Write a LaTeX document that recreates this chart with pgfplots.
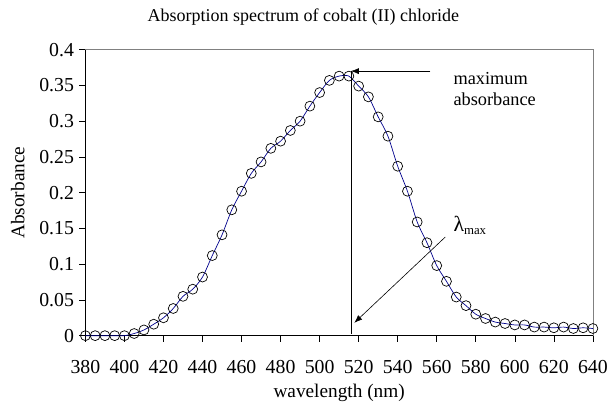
\documentclass[border=0pt]{standalone}
\usepackage{pgfplots}
\pgfplotsset{compat=1.18}
\usepackage{pgfplotstable}
\usepackage{fontspec}
\setmainfont{Liberation Serif}
\usetikzlibrary{arrows.meta}
\definecolor{curveblue}{RGB}{0,0,140}
\pgfplotstableread{
x y
380 0
385 0
390 0
395 0
400 0
405 0.003
410 0.008
415 0.016
420 0.025
425 0.038
430 0.055
435 0.065
440 0.082
445 0.112
450 0.141
455 0.176
460 0.202
465 0.227
470 0.243
475 0.262
480 0.272
485 0.287
490 0.300
495 0.321
500 0.340
505 0.357
510 0.363
515 0.363
520 0.349
525 0.334
530 0.306
535 0.279
540 0.237
545 0.202
550 0.159
555 0.130
560 0.098
565 0.076
570 0.054
575 0.042
580 0.030
585 0.024
590 0.019
595 0.017
600 0.015
605 0.015
610 0.012
615 0.012
620 0.011
625 0.012
630 0.010
635 0.011
640 0.010
}\spectrum
\begin{document}
\begin{tikzpicture}
\begin{axis}[
  at={(0,0)}, anchor=south west,
  scale only axis, width=511bp, height=288bp,
  xmin=380, xmax=640, ymin=0, ymax=0.4,
  xtick={380,400,...,640},
  ytick={0,0.05,...,0.4},
  yticklabels={0,0.05,0.1,0.15,0.2,0.25,0.3,0.35,0.4},
  /pgf/number format/assume math mode=true,
  xtick pos=bottom, ytick pos=left,
  tick align=outside, major tick length=6bp,
  tick style={black, line width=0.6pt},
  axis line style={draw=gray, line width=0.6pt},
  ticklabel style={font=\fontsize{20}{22}\selectfont},
  xticklabel style={yshift=-15bp},
  yticklabel style={xshift=-2bp},
  xlabel={wavelength (nm)},
  ylabel={Absorbance},
  label style={font=\fontsize{19.5}{22}\selectfont},
  xlabel style={yshift=-4bp},
  ylabel style={yshift=8bp},
  clip=false,
]
\draw[black, line width=0.6pt] (rel axis cs:0,1) -- (rel axis cs:0,0) -- (rel axis cs:1,0);
\addplot[curveblue, line width=0.7pt, smooth, tension=0.5, no marks] table {\spectrum};
\addplot[black, only marks, mark=o, mark size=5bp, mark options={line width=0.7pt}] table {\spectrum};
\draw[-{Latex[length=8bp,width=6bp]}, line width=0.6pt] (axis cs:556.7,0.370) -- (axis cs:516,0.370);
\draw[line width=0.6pt] (axis cs:516,0.370) -- (axis cs:516,0.003);
\draw[-{Latex[length=8bp,width=6bp]}, line width=0.6pt] (axis cs:564.4,0.138) -- (axis cs:517.8,0.018);
\node[anchor=west, align=left, inner sep=0pt, font=\fontsize{18.5}{21.7}\selectfont] at (axis cs:568.5,0.345) {maximum\\absorbance};
\node[anchor=west, inner sep=0pt, font=\fontsize{18.5}{19}\selectfont] at (axis cs:568.5,0.154) {{\fontsize{22}{22}\selectfont λ}\textsubscript{max}};
\end{axis}
\node[font=\fontsize{18.2}{21}\selectfont] at (219.5bp,321bp) {Absorption spectrum of cobalt (II) chloride};
\path[use as bounding box] (-86bp,-68bp) rectangle (525bp,338bp);
\end{tikzpicture}
\end{document}
